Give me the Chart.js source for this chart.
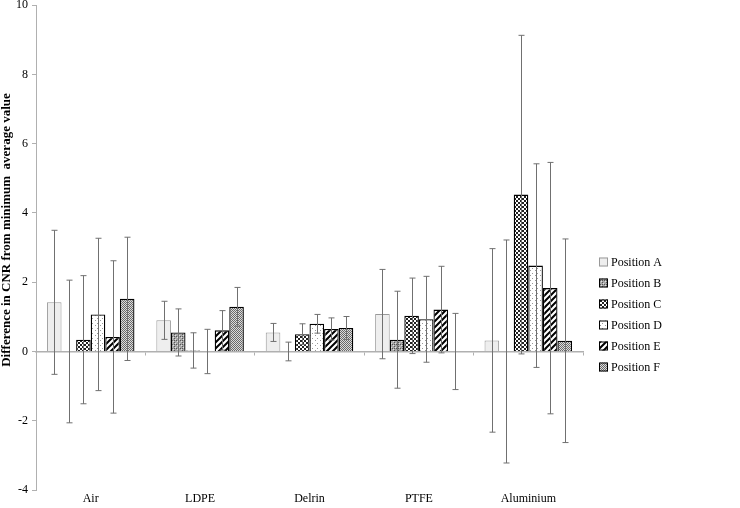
<!DOCTYPE html>
<html>
<head>
<meta charset="utf-8">
<script src="https://cdn.jsdelivr.net/npm/chart.js@4/dist/chart.umd.min.js"></script>
<style>
html,body{margin:0;padding:0;background:#fff;}
#wrap{width:740px;height:508px;position:relative;}
</style>
</head>
<body>
<div id="wrap"><canvas id="c" width="740" height="508"></canvas></div>
<script>
const categories = ['Air', 'LDPE', 'Delrin', 'PTFE', 'Aluminium'];
const seriesNames = ['Position A', 'Position B', 'Position C', 'Position D', 'Position E', 'Position F'];
const posA = [1.42, 0.90, 0.55, 1.08, 0.32];
const posB = [0.00, 0.55, 0.00, 0.34, 0.00];
const posC = [0.34, 0.03, 0.50, 1.03, 4.53];
const posD = [1.07, 0.00, 0.80, 0.93, 2.48];
const posE = [0.42, 0.61, 0.65, 1.21, 1.83];
const posF = [1.52, 1.29, 0.68, 0.00, 0.31];
const errA = [2.08, 0.55, 0.26, 1.29, 2.65];
const errB = [2.06, 0.68, 0.27, 1.40, 3.22];
const errC = [1.85, 0.51, 0.30, 1.09, 4.60];
const errD = [2.20, 0.64, 0.27, 1.24, 2.94];
const errE = [2.20, 0.57, 0.32, 1.25, 3.63];
const errF = [1.78, 0.56, 0.33, 1.10, 2.94];
const yTicks = [-4, -2, 0, 2, 4, 6, 8, 10];
const yTitle = 'Difference in CNR from minimum  average value';

const SERIF = '"Liberation Serif", "Times New Roman", serif';

function makePattern(size, draw) {
  const cv = document.createElement('canvas');
  cv.width = size; cv.height = size;
  const g = cv.getContext('2d');
  draw(g, size);
  return g.createPattern(cv, 'repeat');
}
const patA = '#eeeeee';
const patB = makePattern(4, (g) => {
  g.fillStyle = '#a8a8a8'; g.fillRect(0, 0, 4, 4);
  g.fillStyle = '#555'; g.fillRect(0, 0, 1, 1); g.fillRect(2, 2, 1, 1); g.fillRect(2, 0, 1, 1);
  g.fillStyle = '#e0e0e0'; g.fillRect(1, 1, 1, 1); g.fillRect(3, 3, 1, 1);
});
const patC = makePattern(4, (g) => {
  g.fillStyle = '#fff'; g.fillRect(0, 0, 4, 4);
  g.fillStyle = '#222'; g.fillRect(0, 0, 2, 2); g.fillRect(2, 2, 2, 2);
});
const patD = makePattern(5, (g) => {
  g.fillStyle = '#fff'; g.fillRect(0, 0, 5, 5);
  g.fillStyle = '#999'; g.fillRect(0, 0, 1, 1); g.fillRect(2, 3, 1, 1);
});
const patE = makePattern(6, (g) => {
  g.fillStyle = '#fff'; g.fillRect(0, 0, 6, 6);
  g.strokeStyle = '#000'; g.lineWidth = 2;
  g.beginPath();
  g.moveTo(-1, 7); g.lineTo(7, -1);
  g.moveTo(-4, 4); g.lineTo(4, -4);
  g.moveTo(2, 10); g.lineTo(10, 2);
  g.stroke();
});
const patF = makePattern(2, (g) => {
  g.fillStyle = '#dcdcdc'; g.fillRect(0, 0, 2, 2);
  g.fillStyle = '#6a6a6a'; g.fillRect(0, 0, 1, 1); g.fillRect(1, 1, 1, 1);
});

const values = [posA, posB, posC, posD, posE, posF];
const errors = [errA, errB, errC, errD, errE, errF];
const fills = [patA, patB, patC, patD, patE, patF];
const borders = ['#999', '#000', '#000', '#000', '#000', '#000'];
const bw = [1, 1.3, 1.3, 1.3, 1.3, 1.3];

const datasets = seriesNames.map((n, i) => ({
  label: n,
  data: values[i],
  errors: errors[i],
  backgroundColor: fills[i],
  borderColor: borders[i],
  borderWidth: bw[i],
  xAxisID: 'x',
  yAxisID: 'y'
}));

const errorBars = {
  id: 'errorBars',
  afterDatasetsDraw(chart) {
    const ctx = chart.ctx;
    const y = chart.scales.y;
    ctx.save();
    ctx.strokeStyle = '#707070';
    ctx.lineWidth = 1;
    chart.data.datasets.forEach((ds, di) => {
      const meta = chart.getDatasetMeta(di);
      meta.data.forEach((el, i) => {
        const v = ds.data[i], e = ds.errors[i];
        const x = Math.round(el.x) + 0.5;
        const yt = y.getPixelForValue(v + e);
        const yb = y.getPixelForValue(v - e);
        ctx.beginPath();
        ctx.moveTo(x, yt); ctx.lineTo(x, yb);
        ctx.moveTo(x - 3, yt); ctx.lineTo(x + 3, yt);
        ctx.moveTo(x - 3, yb); ctx.lineTo(x + 3, yb);
        ctx.stroke();
      });
    });
    ctx.restore();
  }
};

const customLegend = {
  id: 'customLegend',
  afterDraw(chart) {
    const ctx = chart.ctx;
    ctx.save();
    ctx.font = '12px ' + SERIF;
    ctx.textBaseline = 'middle';
    ctx.textAlign = 'left';
    chart.data.datasets.forEach((ds, i) => {
      const cy = 262 + i * 21;
      ctx.fillStyle = ds.backgroundColor;
      ctx.fillRect(599, cy - 4.5, 9, 9);
      ctx.strokeStyle = ds.borderColor;
      ctx.lineWidth = 1;
      ctx.strokeRect(599.5, cy - 4, 8, 8);
      ctx.fillStyle = '#000';
      ctx.fillText(ds.label, 611, cy + 1);
    });
    // y axis title
    ctx.translate(7, 230);
    ctx.rotate(-Math.PI / 2);
    ctx.font = 'bold 13px ' + SERIF;
    ctx.textAlign = 'center';
    ctx.textBaseline = 'middle';
    ctx.fillText(yTitle, 0, 0);
    ctx.restore();
  }
};

new Chart(document.getElementById('c'), {
  type: 'bar',
  data: { labels: categories, datasets },
  options: {
    responsive: false,
    animation: false,
    layout: { padding: { left: 12, right: 157, top: 0, bottom: 0 } },
    datasets: { bar: { categoryPercentage: 0.8, barPercentage: 1.0 } },
    plugins: { legend: { display: false }, tooltip: { enabled: false } },
    scales: {
      x: {
        type: 'category',
        position: { y: 0 },
        offset: true,
        border: { display: true, color: '#b0b0b0', width: 1.5 },
        grid: { display: true, drawOnChartArea: false, drawTicks: true, tickLength: 3, offset: true, color: '#b0b0b0' },
        ticks: { display: false }
      },
      x2: {
        type: 'category',
        position: 'bottom',
        labels: categories,
        offset: true,
        border: { display: false },
        grid: { display: false, drawTicks: false },
        ticks: { color: '#000', padding: -3, font: { family: SERIF, size: 12, lineHeight: 2.0 } }
      },
      y: {
        min: -4, max: 10,
        afterBuildTicks(scale) { scale.ticks = yTicks.map(v => ({ value: v })); },
        border: { display: true, color: '#b0b0b0', width: 1 },
        grid: { display: true, drawOnChartArea: false, drawTicks: true, tickLength: 4, color: '#b0b0b0' },
        ticks: { color: '#000', padding: 4, font: { family: SERIF, size: 12, lineHeight: 0.2 } }
      }
    }
  },
  plugins: [errorBars, customLegend]
});
</script>
</body>
</html>
